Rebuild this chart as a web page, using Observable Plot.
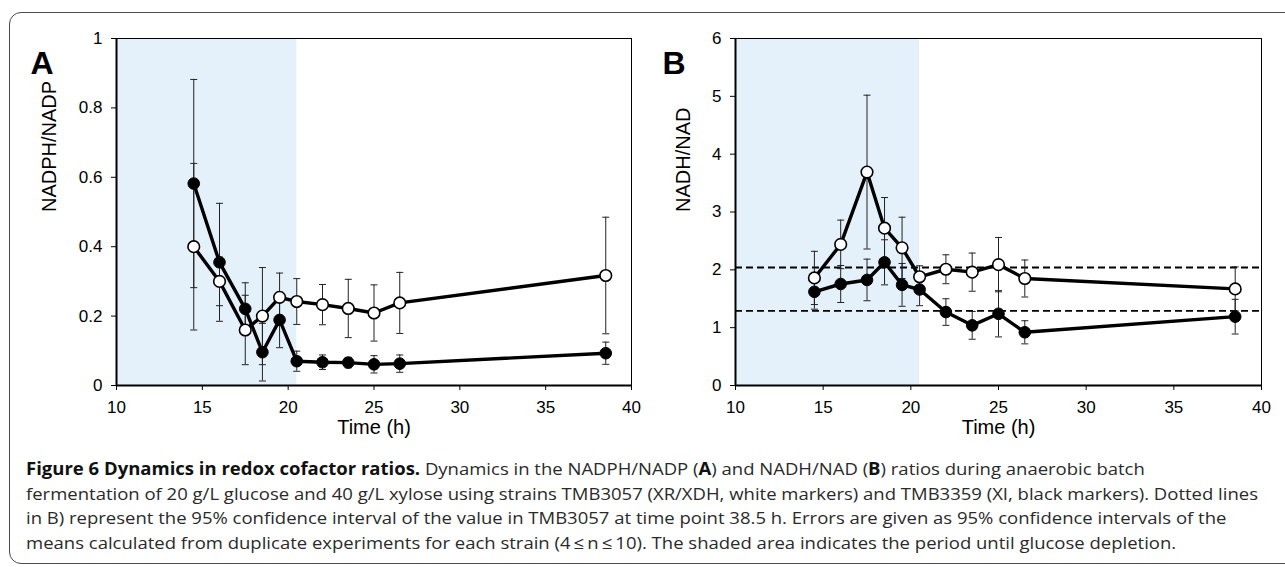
<!DOCTYPE html>
<html><head><meta charset="utf-8">
<script src="https://cdn.jsdelivr.net/npm/d3@7"></script>
<script src="https://cdn.jsdelivr.net/npm/@observablehq/plot@0.6"></script>
<style>
html,body{margin:0;padding:0;background:#fff;overflow:hidden;}
#wrap{position:relative;width:1285px;height:567px;overflow:hidden;}
#box{position:absolute;left:9px;top:12px;width:1300px;height:552px;border:1.5px solid #4a4a4a;border-radius:12px;box-sizing:border-box;}
.panel{position:absolute;top:0;}
#caption{position:absolute;left:26px;top:457px;width:max-content;font-family:"Open Sans",sans-serif;font-size:17px;line-height:24.5px;color:#2a2a2a;white-space:nowrap;transform-origin:0 0;}
#caption b{font-weight:700;color:#111;}
</style></head>
<body><div id="wrap"><div id="box"></div>
<div id="pa" class="panel" style="left:0"></div>
<div id="pb" class="panel" style="left:640px"></div>
<div id="caption"></div>
</div>
<script>
// ---- data ----
const times = [14.5, 16, 17.5, 18.5, 19.5, 20.5, 22, 23.5, 25, 26.5, 38.5];
const nadphWhite    = [0.40, 0.30, 0.16, 0.20, 0.254, 0.242, 0.233, 0.222, 0.209, 0.238, 0.317];
const nadphWhiteErr = [0.24, 0.07, 0.10, 0.14, 0.07, 0.066, 0.058, 0.084, 0.081, 0.088, 0.168];
const nadphBlack    = [0.582, 0.355, 0.221, 0.096, 0.189, 0.070, 0.067, 0.066, 0.061, 0.063, 0.093];
const nadphBlackErr = [0.30, 0.17, 0.075, 0.083, 0.08, 0.029, 0.021, 0.015, 0.025, 0.025, 0.032];
const nadhWhite     = [1.86, 2.44, 3.69, 2.72, 2.38, 1.88, 2.01, 1.96, 2.09, 1.85, 1.67];
const nadhWhiteErr  = [0.46, 0.42, 1.33, 0.53, 0.53, 0.19, 0.25, 0.33, 0.47, 0.32, 0.38];
const nadhBlack     = [1.62, 1.755, 1.825, 2.13, 1.74, 1.66, 1.27, 1.04, 1.24, 0.92, 1.19];
const nadhBlackErr  = [0.30, 0.32, 0.36, 0.39, 0.37, 0.28, 0.23, 0.24, 0.40, 0.20, 0.30];
const ciLinesB = [1.29, 2.04];
const glucoseDepletion = 20.5;
const xTicks = [10, 15, 20, 25, 30, 35, 40];
const yTicksA = [0, 0.2, 0.4, 0.6, 0.8, 1];
const yTicksB = [0, 1, 2, 3, 4, 5, 6];
const captionLines = [
  '<b>Figure 6 Dynamics in redox cofactor ratios.</b> Dynamics in the NADPH/NADP (<b>A</b>) and NADH/NAD (<b>B</b>) ratios during anaerobic batch',
  'fermentation of 20 g/L glucose and 40 g/L xylose using strains TMB3057 (XR/XDH, white markers) and TMB3359 (XI, black markers). Dotted lines',
  'in B) represent the 95% confidence interval of the value in TMB3057 at time point 38.5 h. Errors are given as 95% confidence intervals of the',
  'means calculated from duplicate experiments for each strain (4\u2009\u2264\u2009n\u2009\u2264\u200910). The shaded area indicates the period until glucose depletion.'
];
const captionWidest = 1232;

// ---- helpers ----
const capSymbol = {draw(ctx, size){ const w = Math.sqrt(size/Math.PI); ctx.moveTo(-w,0); ctx.lineTo(w,0); }};
function rows(vals, errs, strain){ return times.map((t,i)=>({t, v: vals[i], lo: vals[i]-errs[i], hi: vals[i]+errs[i], strain})); }

function panel({white, black, yDomain, yTicks, yLabel, letter, width, ml, mr, dashed}){
  const W = rows(...white, "w"), B = rows(...black, "b");
  const all = W.concat(B);
  const fmt = d => String(+d.toFixed(1));
  return Plot.plot({
    width, height: 460,
    marginLeft: ml, marginRight: mr, marginTop: 38, marginBottom: 75,
    style: {fontFamily: "'Liberation Sans', Arial, sans-serif", background: "transparent", overflow: "visible"},
    x: {domain: [10, 40]},
    y: {domain: yDomain},
    marks: [
      Plot.rect([{x1: 10, x2: glucoseDepletion, y1: yDomain[0], y2: yDomain[1]}], {x1: "x1", x2: "x2", y1: "y1", y2: "y2", fill: "#e4f1fa"}),
      dashed ? Plot.ruleY(dashed, {stroke: "#000", strokeWidth: 1.8, strokeDasharray: "7,4"}) : null,
      Plot.ruleX(all, {x: "t", y1: "lo", y2: "hi", stroke: "#222", strokeWidth: 1}),
      Plot.dot(all, {x: "t", y: "lo", symbol: capSymbol, r: 3.5, stroke: "#222", strokeWidth: 1, fill: "none"}),
      Plot.dot(all, {x: "t", y: "hi", symbol: capSymbol, r: 3.5, stroke: "#222", strokeWidth: 1, fill: "none"}),
      Plot.line(B, {x: "t", y: "v", stroke: "#000", strokeWidth: 3.4}),
      Plot.line(W, {x: "t", y: "v", stroke: "#000", strokeWidth: 3.4}),
      Plot.dot(B, {x: "t", y: "v", r: 5.8, fill: "#000", stroke: "#000", strokeWidth: 1}),
      Plot.dot(W, {x: "t", y: "v", r: 5.8, fill: "#fff", stroke: "#000", strokeWidth: 1.6}),
      Plot.frame({stroke: "#000", strokeWidth: 1}),
      Plot.ruleY([yDomain[0]], {stroke: "#000", strokeWidth: 2}),
      Plot.ruleX([10], {stroke: "#000", strokeWidth: 2}),
      Plot.axisX({ticks: xTicks, tickSize: 5, tickPadding: 10, fontSize: 17, label: null, tickFormat: d => d, stroke: "#000", color: "#000"}),
      Plot.axisY({ticks: yTicks, tickSize: 5, tickPadding: 9, fontSize: 17, label: null, tickFormat: fmt, stroke: "#000", color: "#000"}),
      Plot.text(["Time (h)"], {frameAnchor: "bottom", dy: 48, fontSize: 20, fill: "#000"}),
      Plot.text([yLabel], {frameAnchor: "left", rotate: -90, dx: letter.labelDx, fontSize: 20, fill: "#000"}),
      Plot.text([letter.text], {frameAnchor: "top-left", dx: letter.dx, dy: 13, fontSize: 32, fontWeight: "bold", fill: "#000", textAnchor: "start"})
    ]
  });
}

document.getElementById("pa").appendChild(panel({
  white: [nadphWhite, nadphWhiteErr], black: [nadphBlack, nadphBlackErr],
  yDomain: [0, 1], yTicks: yTicksA, yLabel: "NADPH/NADP",
  letter: {text: "A", dx: -86, labelDx: -67}, width: 640, ml: 116, mr: 9, dashed: null
}));
document.getElementById("pb").appendChild(panel({
  white: [nadhWhite, nadhWhiteErr], black: [nadhBlack, nadhBlackErr],
  yDomain: [0, 6], yTicks: yTicksB, yLabel: "NADH/NAD",
  letter: {text: "B", dx: -73, labelDx: -52}, width: 645, ml: 95, mr: 24, dashed: ciLinesB
}));

const cap = document.getElementById("caption");
cap.innerHTML = captionLines.join("<br>");
function fitCaption(){
  cap.style.transform = "none";
  const w = cap.getBoundingClientRect().width;
  if (w > 0) cap.style.transform = `scaleX(${captionWidest / w})`;
}
fitCaption();
if (document.fonts && document.fonts.ready) document.fonts.ready.then(fitCaption);
</script></body></html>
